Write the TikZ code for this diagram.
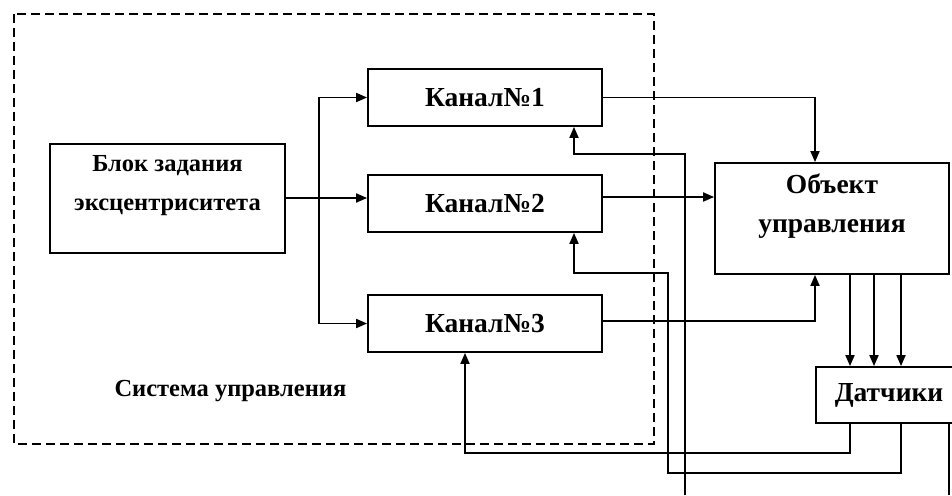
\documentclass[tikz,border=0pt]{standalone}
\usepackage{fontspec}
\setmainfont{Liberation Serif}
\usetikzlibrary{arrows.meta}
\begin{document}
\begin{tikzpicture}[x=1pt,y=-1pt,
  bigtext/.style={font=\fontsize{27.5}{39}\selectfont\bfseries},
  smalltext/.style={font=\fontsize{24.5}{39}\selectfont\bfseries},
  box/.style={draw, line width=1.8pt, inner sep=0pt, bigtext},
  conn/.style={line width=1.8pt, -{Triangle[length=11pt,width=9pt]}},
  wire/.style={line width=1.8pt},
  sysframe/.style={draw, line width=1.8pt, dash pattern=on 9pt off 5pt}]
\useasboundingbox (0,0) rectangle (952,495);
\clip (0,0) rectangle (952,495);
% system frame
\draw[sysframe] (14,14) rectangle (654,444);
\node[anchor=west, smalltext] (sys) at (111,391) {Система управления};
% blocks
\node[box, minimum width=235, minimum height=109,
  label={[align=center, yshift=13pt, smalltext]center:Блок задания\\эксцентриситета}]
  (blok) at (167.5,198.5) {};
\node[box, minimum width=234, minimum height=57] (k1) at (485,97.5) {Канал№1};
\node[box, minimum width=234, minimum height=57] (k2) at (485,203.5) {Канал№2};
\node[box, minimum width=234, minimum height=57] (k3) at (485,323.5) {Канал№3};
\node[box, minimum width=234, minimum height=111,
  label={[align=center, yshift=12pt, bigtext]center:Объект\\управления}]
  (obj) at (832,218.5) {};
\node[box, minimum width=146, minimum height=56] (dat) at (889,395) {Датчики};
% coordinates
\coordinate (br) at (319,198);
\coordinate (f1) at (685,495);
\coordinate (f2) at (949,495);
% forward connections
\draw[conn] (blok.east |- br) -- (k2.west |- br);
\draw[conn] (br) |- (k1.west);
\draw[conn] (br) |- (k3.west);
\draw[conn] (k1.east) -| ([xshift=-17pt]obj.north);
\draw[conn] (k2.east |- 0,197) -- (obj.west |- 0,197);
\draw[conn] (k3.east |- 0,321) -| ([xshift=-17pt]obj.south);
\draw[conn] (obj.south -| 850,0) -- (dat.north -| 850,0);
\draw[conn] (obj.south -| 874,0) -- (dat.north -| 874,0);
\draw[conn] (obj.south -| 901,0) -- (dat.north -| 901,0);
% feedback
\draw[conn] (dat.south -| 850,0) |- (465,453) -- (k3.south -| 465,0);
\draw[conn] (dat.south -| 901,0) |- (668,473) |- (574,273) -- (k2.south -| 574,0);
\draw[conn] (f1) |- (574,154) -- (k1.south -| 574,0);
\draw[wire] (dat.south -| f2) -- (f2);
\end{tikzpicture}
\end{document}
